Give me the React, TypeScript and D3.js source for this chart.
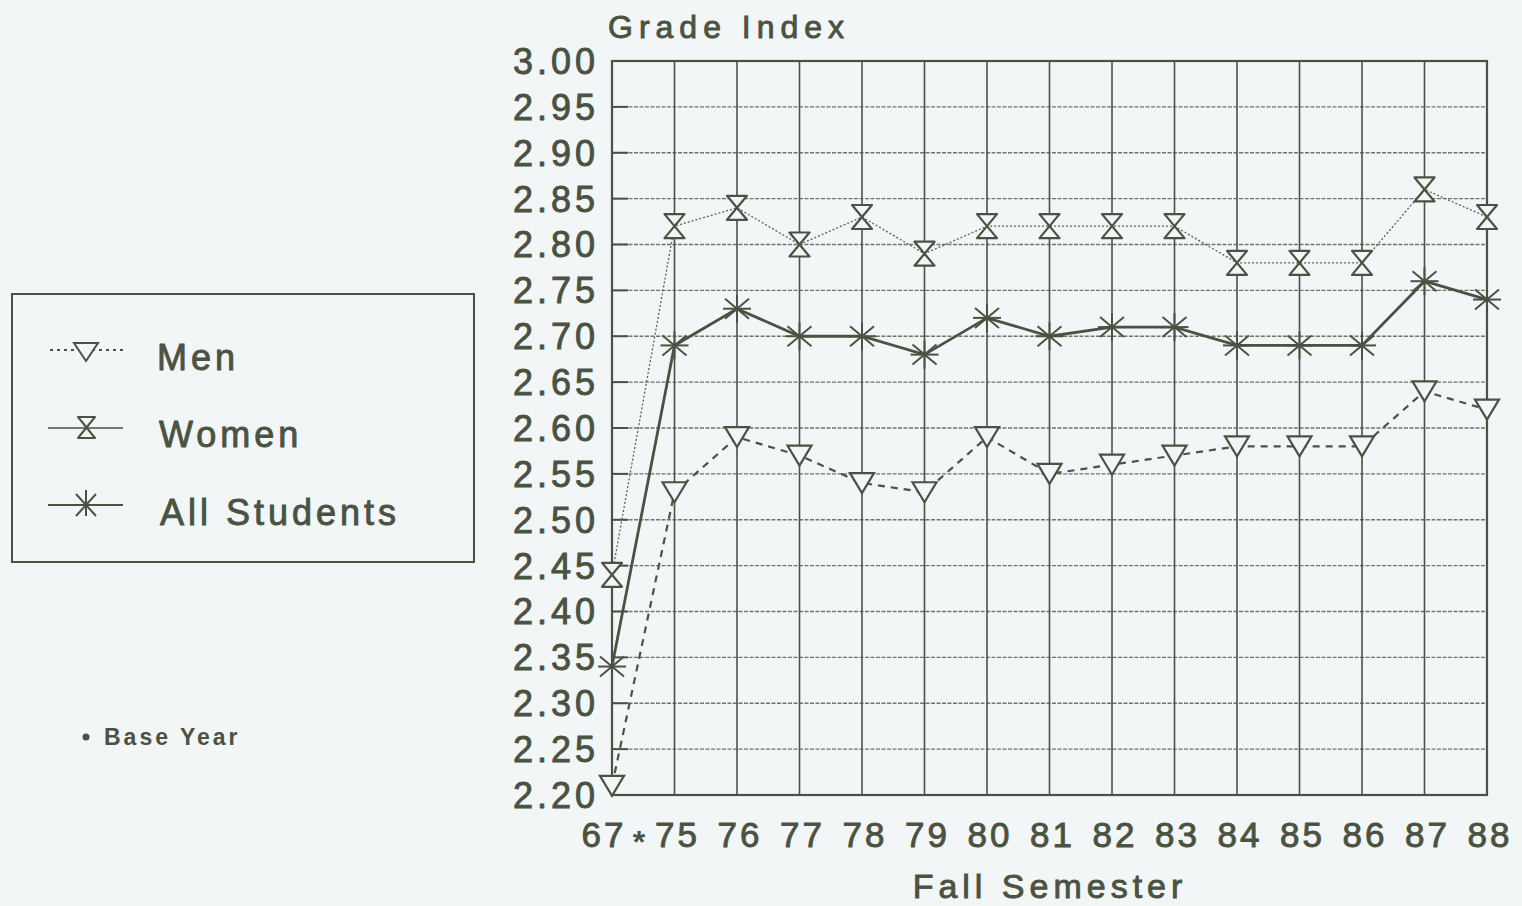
import React from "react";
import * as d3 from "d3";

const categories = ["67", "75", "76", "77", "78", "79", "80", "81", "82", "83", "84", "85", "86", "87", "88"];
const menValues = [2.21, 2.53, 2.59, 2.57, 2.54, 2.53, 2.59, 2.55, 2.56, 2.57, 2.58, 2.58, 2.58, 2.64, 2.62];
const womenValues = [2.44, 2.82, 2.84, 2.80, 2.83, 2.79, 2.82, 2.82, 2.82, 2.82, 2.78, 2.78, 2.78, 2.86, 2.83];
const allValues = [2.34, 2.69, 2.73, 2.70, 2.70, 2.68, 2.72, 2.70, 2.71, 2.71, 2.69, 2.69, 2.69, 2.76, 2.74];
const yTicks = [2.2, 2.25, 2.3, 2.35, 2.4, 2.45, 2.5, 2.55, 2.6, 2.65, 2.7, 2.75, 2.8, 2.85, 2.9, 2.95, 3.0];

const INK = "#4a5242";
const BG = "#f3f6f7";
const FONT = "'Liberation Sans', Arial, Helvetica, sans-serif";

const W = 1522, H = 906;
const L = 612, R = 1487, T = 61, B = 795;

const textStroke = { stroke: INK, strokeWidth: 0.9 };

function TriDown({ x, y }: { x: number; y: number }) {
  const w = 12, h = 10;
  return <path d={`M${x - w},${y - h}L${x + w},${y - h}L${x},${y + h}Z`} fill={BG} stroke={INK} strokeWidth={2.2} />;
}
function Hourglass({ x, y }: { x: number; y: number }) {
  const w = 10, h = 12;
  return (
    <path d={`M${x - w},${y - h}L${x + w},${y - h}L${x - w},${y + h}L${x + w},${y + h}Z`} fill={BG} stroke={INK} strokeWidth={2.2} strokeLinejoin="round" />
  );
}
function Star({ x, y }: { x: number; y: number }) {
  const r = 14, dx = 12, dy = 10;
  return (
    <g stroke={INK} strokeWidth={2}>
      <line x1={x - r} y1={y} x2={x + r} y2={y} />
      <line x1={x - dx} y1={y - dy} x2={x + dx} y2={y + dy} />
      <line x1={x - dx} y1={y + dy} x2={x + dx} y2={y - dy} />
      <line x1={x} y1={y - 14} x2={x} y2={y + 14} />
    </g>
  );
}

export default function App() {
  const x = d3.scalePoint<string>().domain(categories).range([L, R]);
  const y = d3.scaleLinear().domain([2.2, 3.0]).range([B, T]);
  const line = d3
    .line<number>()
    .x((_, i) => x(categories[i]) as number)
    .y((d) => y(d));

  return (
    <svg width={W} height={H} style={{ position: "absolute", left: 0, top: 0, background: BG }} fontFamily={FONT}>
      <rect x={0} y={0} width={W} height={H} fill={BG} />
      {/* horizontal grid */}
      {yTicks.map((t) => (
        <g key={t}>
          <line x1={L} x2={R} y1={y(t)} y2={y(t)} stroke="#6f7668" strokeWidth={1.3} strokeDasharray="4,1.5" />
          <line x1={L} x2={L + 16} y1={y(t)} y2={y(t)} stroke={INK} strokeWidth={2} />
          <text x={599} y={y(t)} dy="0.36em" textAnchor="end" fontSize={36} fill={INK} letterSpacing={4} {...textStroke}>
            {t.toFixed(2)}
          </text>
        </g>
      ))}
      {/* vertical grid */}
      {categories.map((c) => (
        <line key={c} x1={x(c)} x2={x(c)} y1={T} y2={B} stroke={INK} strokeWidth={1.6} />
      ))}
      <rect x={L} y={T} width={R - L} height={B - T} fill="none" stroke={INK} strokeWidth={2.2} />
      {/* x labels */}
      {categories.map((c, i) => (
        <text key={c} x={(x(c) as number) + (i === 0 ? -8 : 3)} y={847} textAnchor="middle" fontSize={35} fill={INK} letterSpacing={3} {...textStroke}>
          {c}
        </text>
      ))}
      <text x={639} y={853} textAnchor="middle" fontSize={32} fontWeight="bold" fill={INK}>*</text>
      {/* titles */}
      <text x={608} y={38} fontSize={32} fill={INK} letterSpacing={6} {...textStroke}>Grade Index</text>
      <text x={1050} y={898} textAnchor="middle" fontSize={34} fill={INK} letterSpacing={5} {...textStroke}>Fall Semester</text>

      {/* lines */}
      <path d={line(womenValues) || ""} fill="none" stroke="#5a6252" strokeWidth={1.3} strokeDasharray="2,2" />
      <path d={line(allValues) || ""} fill="none" stroke={INK} strokeWidth={2.8} />
      <path d={line(menValues) || ""} fill="none" stroke={INK} strokeWidth={2.2} strokeDasharray="7,6" />
      {womenValues.map((v, i) => (
        <Hourglass key={"w" + i} x={x(categories[i]) as number} y={y(v)} />
      ))}
      {allValues.map((v, i) => (
        <Star key={"a" + i} x={x(categories[i]) as number} y={y(v)} />
      ))}
      {menValues.map((v, i) => (
        <TriDown key={"m" + i} x={x(categories[i]) as number} y={y(v)} />
      ))}

      {/* legend */}
      <rect x={12} y={294} width={462} height={268} fill="none" stroke={INK} strokeWidth={2} />
      <line x1={50} x2={123} y1={350} y2={350} stroke={INK} strokeWidth={1.8} strokeDasharray="3,4" />
      <path d={`M74,343L98,343L86,361Z`} fill={BG} stroke={INK} strokeWidth={2} />
      <text x={157} y={370} fontSize={36} fill={INK} letterSpacing={4} {...textStroke}>Men</text>
      <line x1={48} x2={123} y1={428} y2={428} stroke={INK} strokeWidth={1.3} />
      <path d={`M78,417L95,417L78,438L95,438Z`} fill={BG} stroke={INK} strokeWidth={2} strokeLinejoin="round" />
      <text x={159} y={447} fontSize={36} fill={INK} letterSpacing={4} {...textStroke}>Women</text>
      <line x1={48} x2={123} y1={505} y2={505} stroke={INK} strokeWidth={2.2} />
      <g stroke={INK} strokeWidth={2}>
        <line x1={86} y1={490} x2={86} y2={516} />
        <line x1={76} y1={494} x2={96} y2={516} />
        <line x1={76} y1={516} x2={96} y2={494} />
      </g>
      <text x={160} y={525} fontSize={36} fill={INK} letterSpacing={4} {...textStroke}>All Students</text>

      {/* base year note */}
      <circle cx={86} cy={737} r={3.5} fill={INK} />
      <text x={104} y={745} fontSize={23} fontWeight="bold" fill={INK} letterSpacing={3}>Base Year</text>
    </svg>
  );
}
